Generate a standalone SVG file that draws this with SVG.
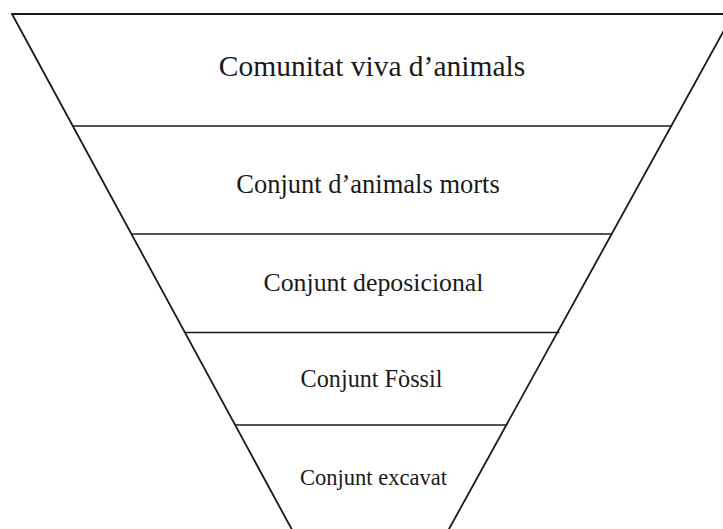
<svg xmlns="http://www.w3.org/2000/svg" width="723" height="529" viewBox="0 0 723 529">
<style>
.edge{stroke:#1a1a1a;stroke-width:1.8;fill:none;stroke-linecap:round}
.div{stroke:#1a1a1a;stroke-width:1.3;fill:none}
.lbl{font-family:"Liberation Serif","Times New Roman",serif;fill:#1a1a1a;text-anchor:middle}
</style>
<rect width="723" height="529" fill="#ffffff"/>
<g id="funnel">
<path class="edge" d="M12,14 L733,14"/>
<path class="edge" d="M12,14 L291.6,529"/>
<path class="edge" d="M733,14 L449,529"/>
</g>
<g id="dividers">
<line class="div" x1="73" y1="126" x2="671.5" y2="126"/>
<line class="div" x1="131.5" y1="234" x2="611.7" y2="234"/>
<line class="div" x1="185" y1="332.5" x2="559.3" y2="332.5"/>
<line class="div" x1="235" y1="425" x2="507.3" y2="425"/>
</g>
<g id="level1"><text class="lbl" x="372" y="76" font-size="29.5">Comunitat viva d’animals</text></g>
<g id="level2"><text class="lbl" x="368" y="193" font-size="26.5">Conjunt d’animals morts</text></g>
<g id="level3"><text class="lbl" x="373.5" y="291" font-size="25.8">Conjunt deposicional</text></g>
<g id="level4"><text class="lbl" x="371.5" y="387" font-size="24.2">Conjunt Fòssil</text></g>
<g id="level5"><text class="lbl" x="373.5" y="485" font-size="22.5">Conjunt excavat</text></g>
</svg>
